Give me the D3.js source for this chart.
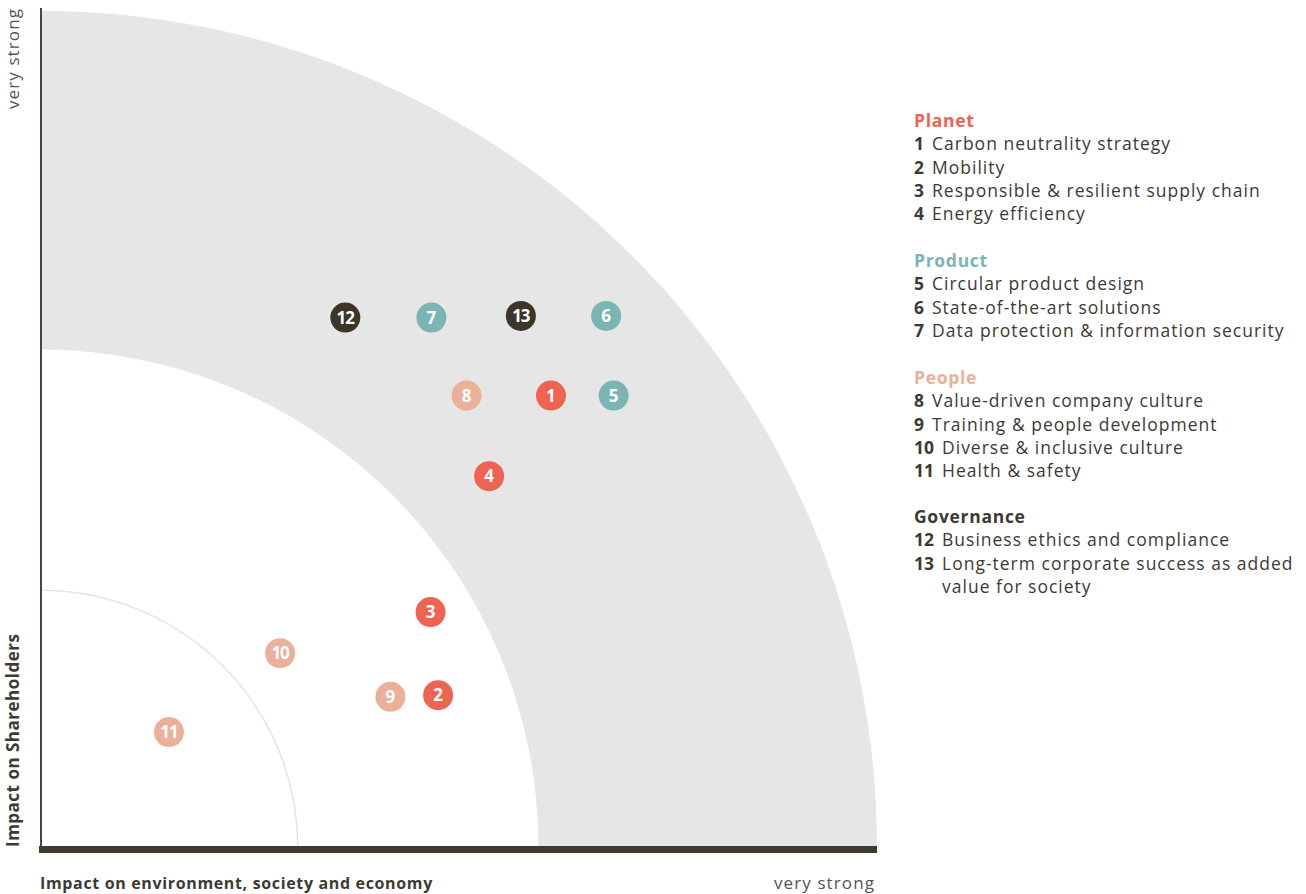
<!DOCTYPE html>
<html><head><meta charset="utf-8">
<script src="https://cdn.jsdelivr.net/npm/d3@7"></script>
<style>
html,body{margin:0;padding:0;background:#fff;}
svg{display:block;font-family:"Open Sans",sans-serif;}
</style></head>
<body><svg id="c" width="1306" height="894"></svg>
<script>
// ---- data ----
const ids      = [1,2,3,4,5,6,7,8,9,10,11,12,13];
const groups   = ["Planet","Planet","Planet","Planet","Product","Product","Product","People","People","People","People","Governance","Governance"];
const labels   = ["Carbon neutrality strategy","Mobility","Responsible & resilient supply chain","Energy efficiency",
                  "Circular product design","State-of-the-art solutions","Data protection & information security",
                  "Value-driven company culture","Training & people development","Diverse & inclusive culture","Health & safety",
                  "Business ethics and compliance","Long-term corporate success as added\nvalue for society"];
const envImpact = [61.0,47.5,46.6,53.6,68.5,67.6,46.7,50.9,41.8,28.6,15.3,36.4,57.4];
const shImpact  = [53.8,18.1,28.0,44.2,53.8,63.3,63.1,53.8,17.9,23.1,13.7,63.1,63.3];
const groupNames  = ["Planet","Product","People","Governance"];
const groupColors = ["#ee6352","#7ab5b3","#ebb09a","#3b3629"];
const rings = [100, 59.5, 30.7];  // outer band edge, inner band edge, thin line

const svg = d3.select("#c");
const x = d3.scaleLinear().domain([0,100]).range([41,877]);
const y = d3.scaleLinear().domain([0,100]).range([847,8]);
const color = d3.scaleOrdinal().domain(groupNames).range(groupColors);
const ox = x(0), oy = y(0);
const rpx = v => x(v) - x(0);

// quarter rings
const g0 = svg.append("g").attr("transform",`translate(${ox},${oy})`);
g0.append("path").attr("d", d3.arc().startAngle(0).endAngle(Math.PI/2)
  .innerRadius(rpx(rings[1])).outerRadius(rpx(rings[0]))()).attr("fill","#e6e6e6");
g0.append("path").attr("d", d3.arc().startAngle(0).endAngle(Math.PI/2)
  .innerRadius(rpx(rings[2])-0.75).outerRadius(rpx(rings[2])+0.75)()).attr("fill","#e4e4e4");

// axes
svg.append("line").attr("x1",ox).attr("x2",ox).attr("y1",y(100)).attr("y2",oy+2)
  .attr("stroke","#4a463d").attr("stroke-width",2);
svg.append("rect").attr("x",39).attr("y",846).attr("width",x(100)-39).attr("height",7).attr("fill","#3f3a2d");

// axis labels
const txt = "#3d3a33";
svg.append("text").attr("transform",`translate(40,889)`).attr("font-weight",700).attr("font-size",16)
  .attr("letter-spacing",0.65).attr("fill",txt).text("Impact on environment, society and economy");
svg.append("text").attr("transform",`translate(875,889)`).attr("text-anchor","end").attr("font-size",17)
  .attr("letter-spacing",1.1).attr("fill","#555").text("very strong");
svg.append("text").attr("transform",`translate(19,847) rotate(-90)`).attr("font-weight",700).attr("font-size",17)
  .attr("letter-spacing",0.5).attr("fill",txt).text("Impact on Shareholders");
svg.append("text").attr("transform",`translate(19,8) rotate(-90)`).attr("text-anchor","end").attr("font-size",17)
  .attr("letter-spacing",1.1).attr("fill","#555").text("very strong");

// markers
const pts = ids.map((id,i)=>({id, g:groups[i], x:envImpact[i], y:shImpact[i]}));
const m = svg.append("g").selectAll("g").data(pts).join("g")
  .attr("transform",d=>`translate(${x(d.x)},${y(d.y)})`);
m.append("circle").attr("r",15).attr("fill",d=>color(d.g));
m.append("text").attr("text-anchor","middle").attr("dy","0.36em").attr("font-size",17)
  .attr("font-weight",700).attr("fill","#fff").attr("letter-spacing",d=>d.id>9?"-1":"0").text(d=>d.id);

// legend
const lg = svg.append("g").attr("transform","translate(914,0)");
const headBase = [127,267,384,523];
const ls = 1.0, fs = 17.5;
groupNames.forEach((gn,gi)=>{
  lg.append("text").attr("y",headBase[gi]).attr("font-size",17.5).attr("font-weight",700).attr("letter-spacing",0.7)
    .attr("fill", gn==="Governance" ? txt : color(gn)).text(gn);
  let yy = headBase[gi];
  ids.forEach((id,i)=>{
    if(groups[i]!==gn) return;
    yy += 23.3;
    const t = lg.append("text").attr("y",yy).attr("font-size",fs).attr("fill",txt);
    const n = t.append("tspan").attr("font-weight",700).text(id);
    const w = n.node().getComputedTextLength();
    const parts = labels[i].split("\n");
    t.append("tspan").attr("x", w+8).attr("letter-spacing",ls).text(parts[0]);
    for(let k=1;k<parts.length;k++){
      yy += 23.3;
      lg.append("text").attr("x",w+8).attr("y",yy).attr("font-size",fs).attr("letter-spacing",ls)
        .attr("fill",txt).text(parts[k]);
    }
  });
});
</script></body></html>
